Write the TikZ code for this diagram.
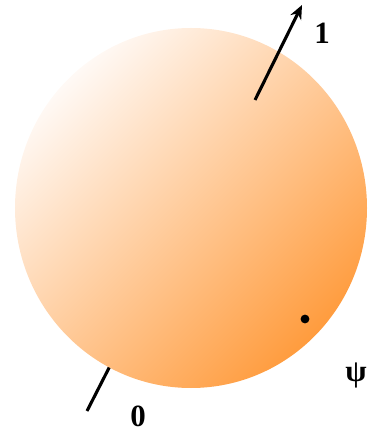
\documentclass[tikz,border=0pt]{standalone}
\usepackage{fontspec}
\setmainfont{Liberation Serif}
\usetikzlibrary{arrows.meta}
\definecolor{peachlight}{RGB}{255,249,245}
\definecolor{peachmid}{RGB}{255,204,172}
\definecolor{peachdark}{RGB}{255,156,62}

\begin{document}
\begin{tikzpicture}[
  axis/.style={line width=2.2pt},
  lbl/.style={font=\fontsize{22}{26}\selectfont\bfseries, inner sep=0pt},
  state/.style={circle, fill=black, inner sep=0pt, minimum size=0.22cm}]
\useasboundingbox (-4.775,-5.6) rectangle (4.425,5.2);
% lower end of the axis, behind the sphere
\coordinate (south) at (-2.6,-5.075);
\coordinate (rim) at (-2.0,-3.9);
\draw[axis] (south) -- (rim);
% the sphere
\shade[top color=peachlight, middle color=peachmid, bottom color=peachdark, shading angle=45]
  (0,0) ellipse (4.4 and 4.5);
% upper end of the axis
\coordinate (inner) at (1.6,2.7);
\coordinate (north) at (2.775,5.075);
\draw[axis, -{Stealth[length=10pt, width=8.5pt]}] (inner) -- (north);
\node[state] (psidot) at (2.85,-2.775) {};
\node[lbl] (one) at (3.275,4.375) {1};
\node[lbl] (zero) at (-1.325,-5.2) {0};
\node[lbl] (psi) at (4.125,-4.175) {ψ};
\end{tikzpicture}
\end{document}
